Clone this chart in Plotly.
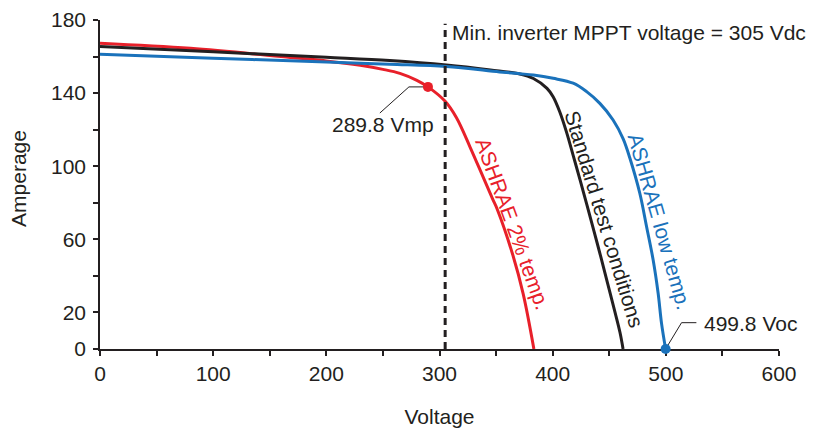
import plotly.graph_objects as go

# ---- data ----
red_v = [0, 80, 168, 200, 230, 250, 265, 280, 289.8, 305, 315, 327, 338.6, 347, 351, 365, 374, 383.4]
red_i = [167.3, 164.5, 159.5, 157.6, 155.2, 153.0, 150.8, 147.0, 143.4, 135.5, 126.5, 110.5, 94.0, 82.0, 76.5, 51.0, 30.0, 0]

stc_v = [0, 100, 200, 256, 306, 345, 371, 383, 395, 400.4, 406.4, 412.3, 418.3, 424.2, 430.2, 436.5, 442.5, 448.5, 454.5, 459.5, 462.2]
stc_i = [165.5, 162.6, 159.6, 157.8, 155.4, 152.7, 150.5, 148.0, 142.6, 138.0, 129.5, 118.5, 105.5, 92.5, 79.0, 64.5, 50.5, 36.0, 21.5, 9.0, 0]

low_v = [0, 100, 200, 256, 306, 353, 371, 383, 400.4, 418.1, 430, 441.7, 453.4, 462.3, 468.2, 477, 483, 488.8, 493.2, 496.2, 499.8]
low_i = [161.2, 159.1, 157.0, 155.8, 154.6, 151.6, 150.6, 149.9, 148.1, 145.4, 140.8, 134.4, 125.3, 115.0, 104.5, 85.2, 66.9, 48.7, 30.5, 14.0, 0]

vmp_v, vmp_i = [289.8], [143.4]
voc_v, voc_i = [499.8], [0]
mppt_v = 305

x_ticks = [0, 50, 100, 150, 200, 250, 300, 350, 400, 450, 500, 550, 600]
x_labels = ["0", "", "100", "", "200", "", "300", "", "400", "", "500", "", "600"]
y_ticks = [0, 20, 40, 60, 80, 100, 120, 140, 160, 180]
y_labels = ["0", "20", "", "60", "", "100", "", "140", "", "180"]

RED = "#e8202a"
BLACK = "#231f20"
BLUE = "#1a72bb"
FONT = "Liberation Sans, Arial, Helvetica, sans-serif"

line_style = dict(width=3, shape="spline", smoothing=1.0)

fig = go.Figure()
fig.add_trace(go.Scatter(x=red_v, y=red_i, mode="lines", line=dict(color=RED, **line_style)))
fig.add_trace(go.Scatter(x=stc_v, y=stc_i, mode="lines", line=dict(color=BLACK, **line_style)))
fig.add_trace(go.Scatter(x=low_v, y=low_i, mode="lines", line=dict(color=BLUE, **line_style)))
fig.add_trace(go.Scatter(x=vmp_v, y=vmp_i, mode="markers", marker=dict(color=RED, size=10), cliponaxis=False))
fig.add_trace(go.Scatter(x=voc_v, y=voc_i, mode="markers", marker=dict(color=BLUE, size=10), cliponaxis=False))

# dashed MPPT line
fig.add_shape(type="line", x0=mppt_v, x1=mppt_v, y0=0, y1=178, xref="x", yref="y",
              line=dict(color=BLACK, width=3, dash="7px,5px"), layer="above")
# leader lines
fig.add_shape(type="path", xref="x", yref="y", path=f"M {vmp_v[0]},{vmp_i[0]} L 273,{vmp_i[0]} L 247.3,129.1",
              line=dict(color=BLACK, width=1), layer="below")
fig.add_shape(type="path", xref="x", yref="y", path=f"M {voc_v[0]},{voc_i[0]} L 513.9,14.4 L 527,14.4",
              line=dict(color=BLACK, width=1), layer="below")

ann_font = dict(family=FONT, size=21, color=BLACK)
fig.add_annotation(x=309, y=173.4, xref="x", yref="y", text="Min. inverter MPPT voltage = 305 Vdc",
                   showarrow=False, xanchor="left", yanchor="middle", font=ann_font)
fig.add_annotation(x=250, y=122.6, xref="x", yref="y", text="289.8 Vmp",
                   showarrow=False, xanchor="center", yanchor="middle", font=ann_font)
fig.add_annotation(x=575.1, y=14.2, xref="x", yref="y", text="499.8 Voc",
                   showarrow=False, xanchor="center", yanchor="middle", font=ann_font)
fig.add_annotation(x=364.5, y=68.4, xref="x", yref="y", text="ASHRAE 2% temp.", textangle=70,
                   showarrow=False, xanchor="center", yanchor="middle", font=dict(family=FONT, size=21, color=RED))
fig.add_annotation(x=446, y=71.1, xref="x", yref="y", text="Standard test conditions", textangle=73,
                   showarrow=False, xanchor="center", yanchor="middle", font=dict(family=FONT, size=21, color=BLACK))
fig.add_annotation(x=494.3, y=69.5, xref="x", yref="y", text="ASHRAE low temp.", textangle=74,
                   showarrow=False, xanchor="center", yanchor="middle", font=dict(family=FONT, size=21, color=BLUE))
# y axis title
fig.add_annotation(x=-0.1193, y=0.52, xref="paper", yref="paper", text="Amperage", textangle=-90,
                   showarrow=False, xanchor="center", yanchor="middle", font=ann_font)

axis_common = dict(showgrid=False, zeroline=False, showline=True, linecolor=BLACK, linewidth=1.5,
                   ticks="outside", ticklen=5, tickwidth=1.5, tickcolor=BLACK,
                   tickfont=dict(family=FONT, size=21, color=BLACK), automargin=False, layer="below traces")

fig.update_layout(
    width=806, height=420,
    margin=dict(l=92, r=35, t=12, b=79),
    plot_bgcolor="white", paper_bgcolor="white",
    showlegend=False,
    xaxis=dict(range=[0, 600], tickvals=x_ticks, ticktext=x_labels,
               title=dict(text="Voltage", font=dict(family=FONT, size=21, color=BLACK), standoff=26),
               **axis_common),
    yaxis=dict(range=[0, 180], tickvals=y_ticks, ticktext=y_labels, ticklabelstandoff=3,
               **axis_common),
)

fig.write_html("out.html")
